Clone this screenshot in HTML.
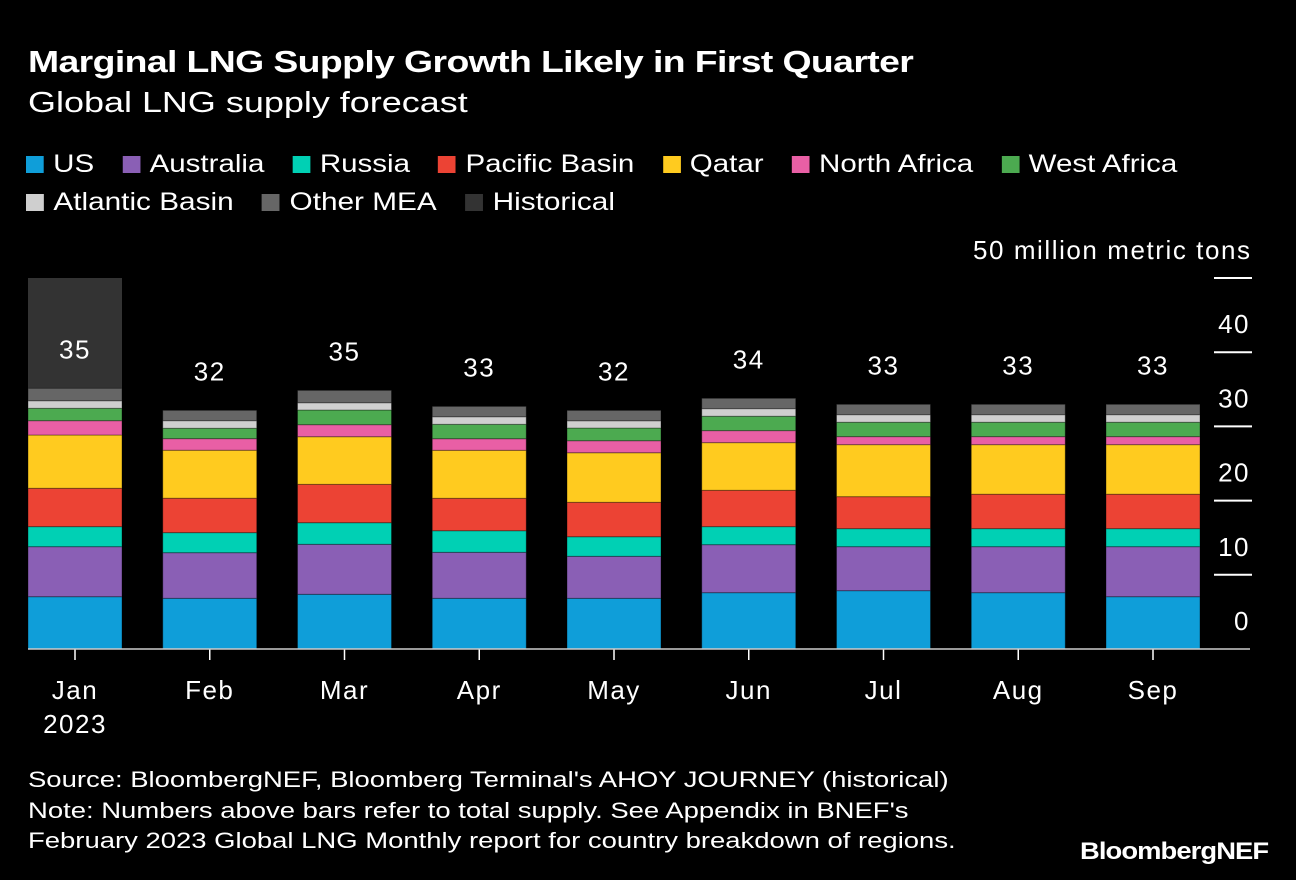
<!DOCTYPE html>
<html><head><meta charset="utf-8"><style>
body{margin:0;background:#000;width:1296px;height:880px;overflow:hidden;font-family:"Liberation Sans",sans-serif;color:#fff;position:relative}
.t{position:absolute;white-space:nowrap;transform-origin:0 0}
.leg{position:absolute;left:26px;display:flex;align-items:center;font-size:25px;transform-origin:0 50%;white-space:nowrap}
.leg span.sq{display:inline-block;width:15px;height:17px;margin-right:8px}
.leg span.it{display:flex;align-items:center;margin-right:24px}
</style></head><body>
<div class="t" style="left:28px;top:44px;font-size:31px;font-weight:bold;letter-spacing:-0.5px;transform:scaleX(1.205)">Marginal LNG Supply Growth Likely in First Quarter</div>
<div class="t" style="left:28px;top:87px;font-size:29px;transform:scaleX(1.24)">Global LNG supply forecast</div>
<div class="leg" style="top:150px;transform:scaleX(1.18)">
<span class="it"><span class="sq" style="background:#0f9ed9"></span>US</span>
<span class="it"><span class="sq" style="background:#8a5fb5"></span>Australia</span>
<span class="it"><span class="sq" style="background:#00d0b4"></span>Russia</span>
<span class="it"><span class="sq" style="background:#ec4334"></span>Pacific Basin</span>
<span class="it"><span class="sq" style="background:#ffcb1f"></span>Qatar</span>
<span class="it"><span class="sq" style="background:#e95fa5"></span>North Africa</span>
<span class="it"><span class="sq" style="background:#4caa50"></span>West Africa</span>
</div>
<div class="leg" style="top:188px;transform:scaleX(1.19)">
<span class="it"><span class="sq" style="background:#cfcfcf"></span>Atlantic Basin</span>
<span class="it"><span class="sq" style="background:#666"></span>Other MEA</span>
<span class="it"><span class="sq" style="background:#333"></span>Historical</span>
</div>
<svg id="chart" width="1296" height="880" style="position:absolute;left:0;top:0"></svg>
<div class="t" style="left:28px;top:765px;font-size:22.5px;line-height:30.5px;transform:scaleX(1.22)">Source: BloombergNEF, Bloomberg Terminal's AHOY JOURNEY (historical)<br>Note: Numbers above bars refer to total supply. See Appendix in BNEF's<br>February 2023 Global LNG Monthly report for country breakdown of regions.</div>
<div class="t" style="left:1080px;top:838px;font-size:24px;font-weight:bold;letter-spacing:-0.8px;transform:scaleX(1.14)">BloombergNEF</div>
<script>
const months=["Jan","Feb","Mar","Apr","May","Jun","Jul","Aug","Sep"];
const totals=[35,32,35,33,32,34,33,33,33];
const us=[7.05,6.83,7.37,6.83,6.83,7.59,7.86,7.59,7.05];
const australia=[6.74,6.15,6.74,6.2,5.66,6.47,5.93,6.2,6.74];
const russia=[2.7,2.7,2.91,2.91,2.64,2.43,2.43,2.43,2.43];
const pacific=[5.17,4.64,5.17,4.37,4.64,4.9,4.31,4.64,4.64];
const qatar=[7.18,6.47,6.42,6.47,6.68,6.42,7.01,6.68,6.68];
const northAfrica=[1.93,1.56,1.62,1.56,1.62,1.62,1.08,1.08,1.08];
const westAfrica=[1.67,1.4,1.98,1.94,1.71,1.94,1.94,1.94,1.94];
const atlantic=[1.02,1.02,0.98,1.02,0.98,1.02,1.02,1.02,1.02];
const otherMEA=[1.67,1.4,1.67,1.4,1.4,1.4,1.4,1.4,1.4];
const historical=[true,false,false,false,false,false,false,false,false];
const yTicks=[0,10,20,30,40,50];
const series=[["us",us,"#0f9ed9"],["australia",australia,"#8a5fb5"],["russia",russia,"#00d0b4"],["pacific-basin",pacific,"#ec4334"],["qatar",qatar,"#ffcb1f"],["north-africa",northAfrica,"#e95fa5"],["west-africa",westAfrica,"#4caa50"],["atlantic-basin",atlantic,"#cfcfcf"],["other-mea",otherMEA,"#666666"]];
const NS="http://www.w3.org/2000/svg",svg=document.getElementById('chart');
const y=v=>649-v*7.42, xc=i=>75+i*134.75, bw=94;
function mk(t,a,p){const e=document.createElementNS(NS,t);for(const k in a)e.setAttribute(k,a[k]);(p||svg).appendChild(e);return e;}
yTicks.forEach(v=>{
 if(v>0){const l=mk('line',{x1:1214,x2:1252,y1:y(v),y2:y(v),stroke:'#fff','stroke-width':2});
 
 }
 const t=mk('text',{x:1250,y:y(v)-19,'text-anchor':'end','font-size':26,fill:'#fff','letter-spacing':1.5});
 if(v===50){t.setAttribute('textLength',277);t.setAttribute('x',973);t.setAttribute('text-anchor','start');t.removeAttribute('letter-spacing');}
 t.textContent=v===50?'50 million metric tons':v;
 
 
});
months.forEach((m,i)=>{
 const x0=xc(i)-bw/2;
 if(historical[i]){let s=0;series.forEach(se=>s+=se[1][i]);
  const h=mk('rect',{x:x0,y:y(50),width:bw,height:y(s)-y(50)+1,fill:'#333'});
  
  }
 let cum=0;
 series.forEach(se=>{const v=se[1][i];
  const r=mk('rect',{x:x0,y:y(cum+v),width:bw,height:v*7.42,fill:se[2],stroke:'rgba(0,0,0,0.35)','stroke-width':1});
  
  
  cum+=v;});
 const lb=mk('text',{x:xc(i),y:y(cum)-30,'text-anchor':'middle','font-size':26,fill:'#fff','letter-spacing':1.5});
 lb.textContent=totals[i];
 
 
 const tk=mk('line',{x1:xc(i),x2:xc(i),y1:649,y2:660,stroke:'#fff','stroke-width':1.5});
 
 
 const xl=mk('text',{x:xc(i),y:699,'text-anchor':'middle','font-size':26,fill:'#fff','letter-spacing':1.5});
 xl.textContent=m;
 
 
});
const yr=mk('text',{x:xc(0),y:733,'text-anchor':'middle','font-size':26,fill:'#fff','letter-spacing':1.5});yr.textContent='2023';


const base=mk('line',{x1:28,x2:1250,y1:649,y2:649,stroke:'#ccc','stroke-width':1.5});


</script>
</body></html>
